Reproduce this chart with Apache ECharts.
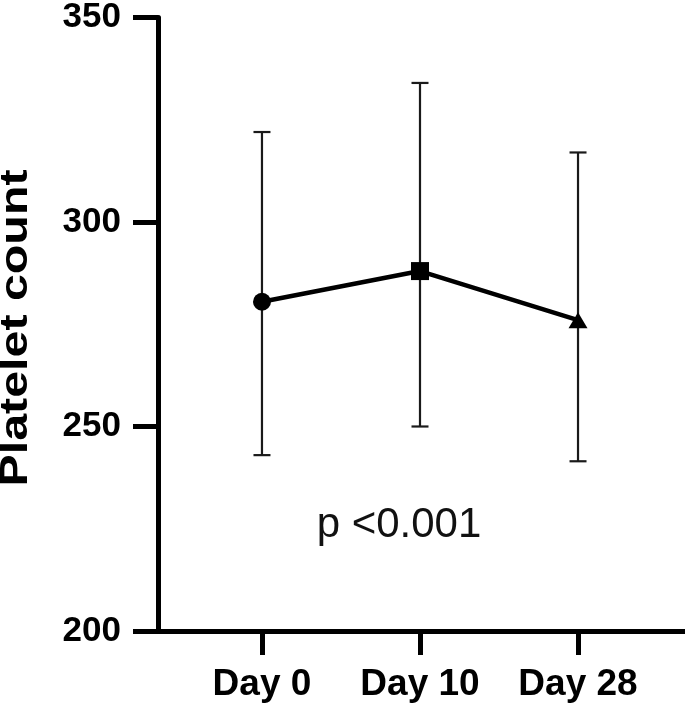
<!DOCTYPE html>
<html>
<head>
<meta charset="utf-8">
<script src="https://cdn.jsdelivr.net/npm/echarts@6/dist/echarts.min.js"></script>
<style>html,body{margin:0;padding:0;background:#fff}#c{width:685px;height:708px}</style>
</head>
<body>
<div id="c"></div>
<script>
var categories = ['Day 0', 'Day 10', 'Day 28'];
var means = [280.5, 288, 276];
var lowers = [243, 250, 241.5];
var uppers = [322, 334, 317];
var symbols = ['circle', 'rect', 'triangle'];
var yTicks = [200, 250, 300, 350];
var annotation = 'p <0.001';
var yTitle = 'Platelet count';

var FONT = '"Liberation Sans", Arial, sans-serif';
var chart = echarts.init(document.getElementById('c'), null, {renderer: 'canvas'});

var idx = categories.map(function (c, i) { return i; });

var option = {
  animation: false,
  backgroundColor: '#fff',
  grid: {left: 158, right: 0, top: 14, bottom: 77},
  xAxis: {
    type: 'value', min: -0.658, max: 2.677,
    splitLine: {show: false},
    axisLine: {show: true, onZero: false, lineStyle: {color: '#000', width: 5}},
    axisTick: {show: true, customValues: idx, length: 24, lineStyle: {color: '#000', width: 5}},
    axisLabel: {show: true, customValues: idx, margin: 35,
      formatter: function (v) { return categories[Math.round(v)]; },
      color: '#000', fontSize: 37, fontWeight: 'bold', fontFamily: FONT}
  },
  yAxis: {
    type: 'value', min: yTicks[0], max: yTicks[yTicks.length - 1], interval: 50,
    splitLine: {show: false},
    axisLine: {show: true, onZero: false, lineStyle: {color: '#000', width: 5}},
    axisTick: {show: true, length: 25, lineStyle: {color: '#000', width: 5}},
    axisLabel: {margin: 37, color: '#000', fontSize: 35, fontWeight: 'bold', fontFamily: FONT}
  },
  series: [
    {
      type: 'custom',
      z: 2,
      data: idx.map(function (i) { return [i, lowers[i], uppers[i]]; }),
      renderItem: function (params, api) {
        var x = api.value(0);
        var lo = api.coord([x, api.value(1)]);
        var hi = api.coord([x, api.value(2)]);
        var hw = 8.5;
        var st = {stroke: '#1a1a1a', lineWidth: 2.2};
        return {
          type: 'group',
          children: [
            {type: 'line', shape: {x1: lo[0], y1: lo[1], x2: hi[0], y2: hi[1]}, style: st},
            {type: 'line', shape: {x1: lo[0] - hw, y1: lo[1], x2: lo[0] + hw, y2: lo[1]}, style: st},
            {type: 'line', shape: {x1: hi[0] - hw, y1: hi[1], x2: hi[0] + hw, y2: hi[1]}, style: st}
          ]
        };
      }
    },
    {
      type: 'line',
      z: 3,
      data: idx.map(function (i) {
        return {value: [i, means[i]], symbol: symbols[i],
          symbolSize: symbols[i] === 'triangle' ? [19, 16] : 18};
      }),
      lineStyle: {color: '#000', width: 4.5},
      itemStyle: {color: '#000'},
      showSymbol: true
    }
  ],
  graphic: [
    {
      type: 'text', x: 399, y: 525,
      style: {text: annotation, font: '42px ' + FONT, fill: '#111', align: 'center', verticalAlign: 'middle'}
    },
    {
      type: 'text', x: 16, y: 328, rotation: Math.PI / 2, scaleX: 1.24,
      style: {text: yTitle, font: 'bold 39px ' + FONT, fill: '#000', align: 'center', verticalAlign: 'middle'}
    }
  ]
};
chart.setOption(option);
</script>
</body>
</html>
